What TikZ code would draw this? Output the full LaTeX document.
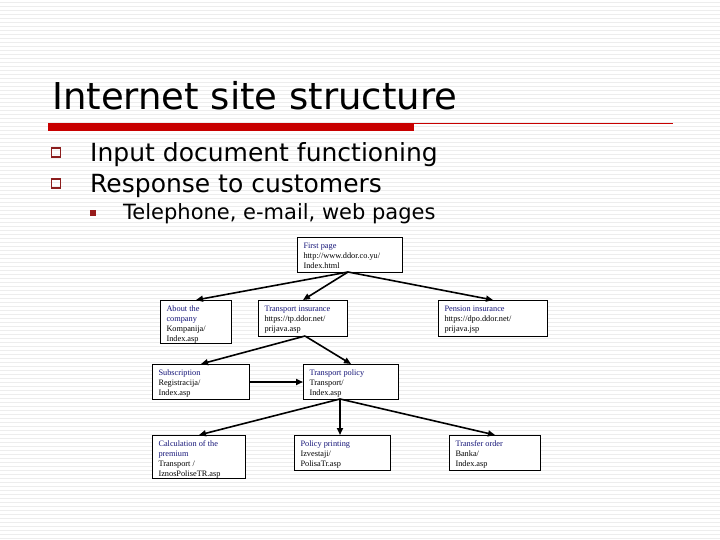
\documentclass[tikz,border=0pt]{standalone}
\usepackage{fontspec}
\setmainfont{DejaVu Sans}
\newfontfamily\boxfont{Liberation Serif}
\usetikzlibrary{arrows.meta}
\definecolor{slred}{RGB}{200,0,0}
\definecolor{bulred}{RGB}{140,30,30}
\definecolor{navyt}{RGB}{20,20,120}
\tikzset{
  pg/.style={draw,line width=1pt,fill=white,anchor=north west,inner sep=0pt,align=left},
  ar/.style={-{Triangle[length=7pt,width=6pt]},line width=1.6pt},
  bl/.style={anchor=base west,font=\fontsize{25}{25}\selectfont},
}
\newcommand{\bx}[4]{\parbox[t][#2pt][t]{#1pt}{\boxfont\fontsize{8.3}{10}\selectfont\hspace*{6pt}\rule{0pt}{11pt}\textcolor{navyt}{#3}\\\hspace*{6pt}#4}}
\begin{document}
\begin{tikzpicture}[x=1pt,y=-1pt]
\useasboundingbox (0,0) rectangle (720,540);
\fill[white] (0,0) rectangle (720,540);
\foreach \y in {2,6,...,538} \draw[black!7,line width=0.5pt] (0,\y) -- (720,\y);
\node[anchor=base west,font=\fontsize{37}{37}\selectfont,inner sep=0pt] (title) at (52,110) {Internet site structure};
\fill[slred] (48,123) rectangle (414,131);
\draw[slred,line width=0.6pt] (414,123.5) -- (673,123.5);
\foreach \y in {153,184} \draw[bulred,line width=1.2pt] (51.5,\y-5) rectangle (60.5,\y+4);
\node[bl,inner sep=0pt] (b1) at (90,162) {Input document functioning};
\node[bl,inner sep=0pt] (b2) at (90,193) {Response to customers};
\fill[bulred!90!red] (90,210) rectangle (96,216);
\node[anchor=base west,inner sep=0pt,font=\fontsize{21}{21}\selectfont] (b3) at (123,220) {Telephone, e-mail, web pages};

\node[pg] (fp) at (297,237) {\bx{105}{35}{First page}{http://www.ddor.co.yu/\\\hspace*{6pt}Index.html}};
\node[pg] (ab) at (160,300) {\bx{71}{43}{About the\\\hspace*{6pt}company}{Kompanija/\\\hspace*{6pt}Index.asp}};
\node[pg] (ti) at (258,300) {\bx{89}{36}{Transport insurance}{https://tp.ddor.net/\\\hspace*{6pt}prijava.asp}};
\node[pg] (pi) at (438,300) {\bx{109}{36}{Pension insurance}{https://dpo.ddor.net/\\\hspace*{6pt}prijava.jsp}};
\node[pg] (su) at (152,364) {\bx{97}{35}{Subscription}{Registracija/\\\hspace*{6pt}Index.asp}};
\node[pg] (tp) at (303,364) {\bx{95}{35}{Transport policy}{Transport/\\\hspace*{6pt}Index.asp}};
\node[pg] (ca) at (152,435) {\bx{93}{43}{Calculation of the\\\hspace*{6pt}premium}{Transport /\\\hspace*{6pt}IznosPoliseTR.asp}};
\node[pg] (pp) at (294,435) {\bx{96}{35}{Policy printing}{Izvestaji/\\\hspace*{6pt}PolisaTr.asp}};
\node[pg] (to) at (449,435) {\bx{91}{35}{Transfer order}{Banka/\\\hspace*{6pt}Index.asp}};

\coordinate (fpb) at (348,272);
\coordinate (tib) at (305,336);
\coordinate (tpb) at (340,399);
\draw[ar] (fpb) -- (ab.north);
\draw[ar] (fpb) -- (ti.north);
\draw[ar] (fpb) -- (pi.north);
\draw[ar] (tib) -- (su.north);
\draw[ar] (tib) -- (tp.north);
\draw[ar] (su.east) -- (tp.west);
\draw[ar] (tpb) -- (ca.north);
\draw[ar] (tpb) -- (pp.north -| tpb);
\draw[ar] (tpb) -- (to.north);
\end{tikzpicture}
\end{document}
